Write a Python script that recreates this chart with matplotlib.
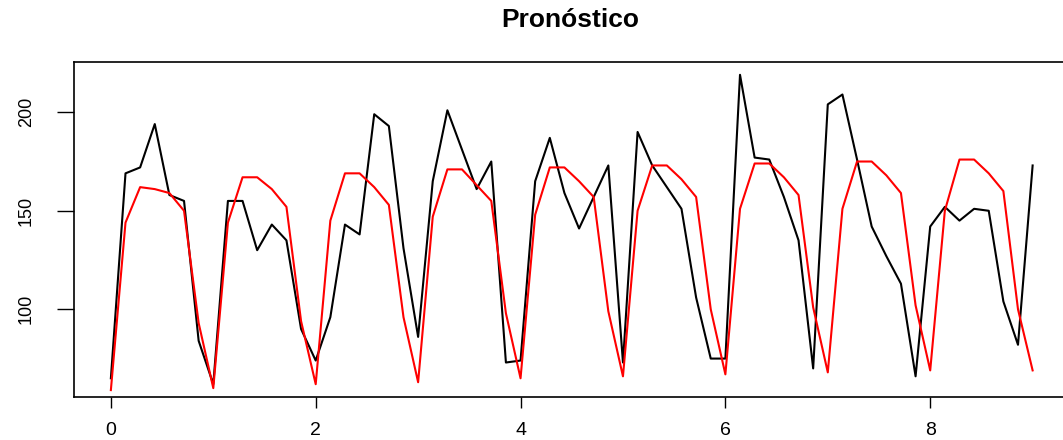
import numpy as np
import matplotlib.pyplot as plt

# serie observada (negro) y pronóstico (rojo), frecuencia semanal de 7 días
real = [65, 169, 172, 194, 158, 155, 84,
        62, 155, 155, 130, 143, 135, 90,
        74, 96, 143, 138, 199, 193, 131,
        86, 165, 201, 181, 161, 175, 73,
        74, 165, 187, 159, 141, 157, 173,
        73, 190, 173, 162, 151, 106, 75,
        75, 219, 177, 176, 157, 135, 70,
        204, 209, 176, 142, 127, 113, 66,
        142, 152, 145, 151, 150, 104, 82,
        173]
pronostico = [59, 144, 162, 161, 159, 150, 93,
              60, 144, 167, 167, 161, 152, 94,
              62, 145, 169, 169, 162, 153, 96,
              63, 147, 171, 171, 163, 155, 98,
              65, 148, 172, 172, 165, 157, 99,
              66, 150, 173, 173, 166, 157, 100,
              67, 151, 174, 174, 167, 158, 101,
              68, 151, 175, 175, 168, 159, 102,
              69, 150, 176, 176, 169, 160, 100,
              69]
t = np.arange(len(real)) / 7
xticks = [0, 2, 4, 6, 8]
yticks = [100, 150, 200]

plt.rcParams['font.family'] = ['Liberation Sans', 'DejaVu Sans']

fig = plt.figure(figsize=(10.63, 4.4), dpi=100)
ax = fig.add_axes([74 / 1063, 43 / 440, 995.5 / 1063, 335 / 440])

ax.plot(t, real, color='black', lw=1.5)
ax.plot(t, pronostico, color='red', lw=1.5)

ax.set_xlim(-0.36, 9.36)
ax.set_ylim(55.5, 225.5)
ax.set_xticks(xticks)
ax.set_xticklabels([str(v) for v in xticks])
ax.set_yticks(yticks)
ax.set_yticklabels([str(v) for v in yticks], rotation=90, va='center')

ax.tick_params(axis='x', length=7.7, width=1, pad=10, labelsize=14)
ax.tick_params(axis='y', length=12.2, width=1, pad=16, labelsize=13)
for s in ax.spines.values():
    s.set_linewidth(1.2)
    s.set_color('black')

fig.text(570.5 / 1063, 1 - 26.7 / 440, 'Pronóstico', ha='center',
         va='baseline', fontsize=19, fontweight='bold')

fig.savefig('out.png', dpi=100)
